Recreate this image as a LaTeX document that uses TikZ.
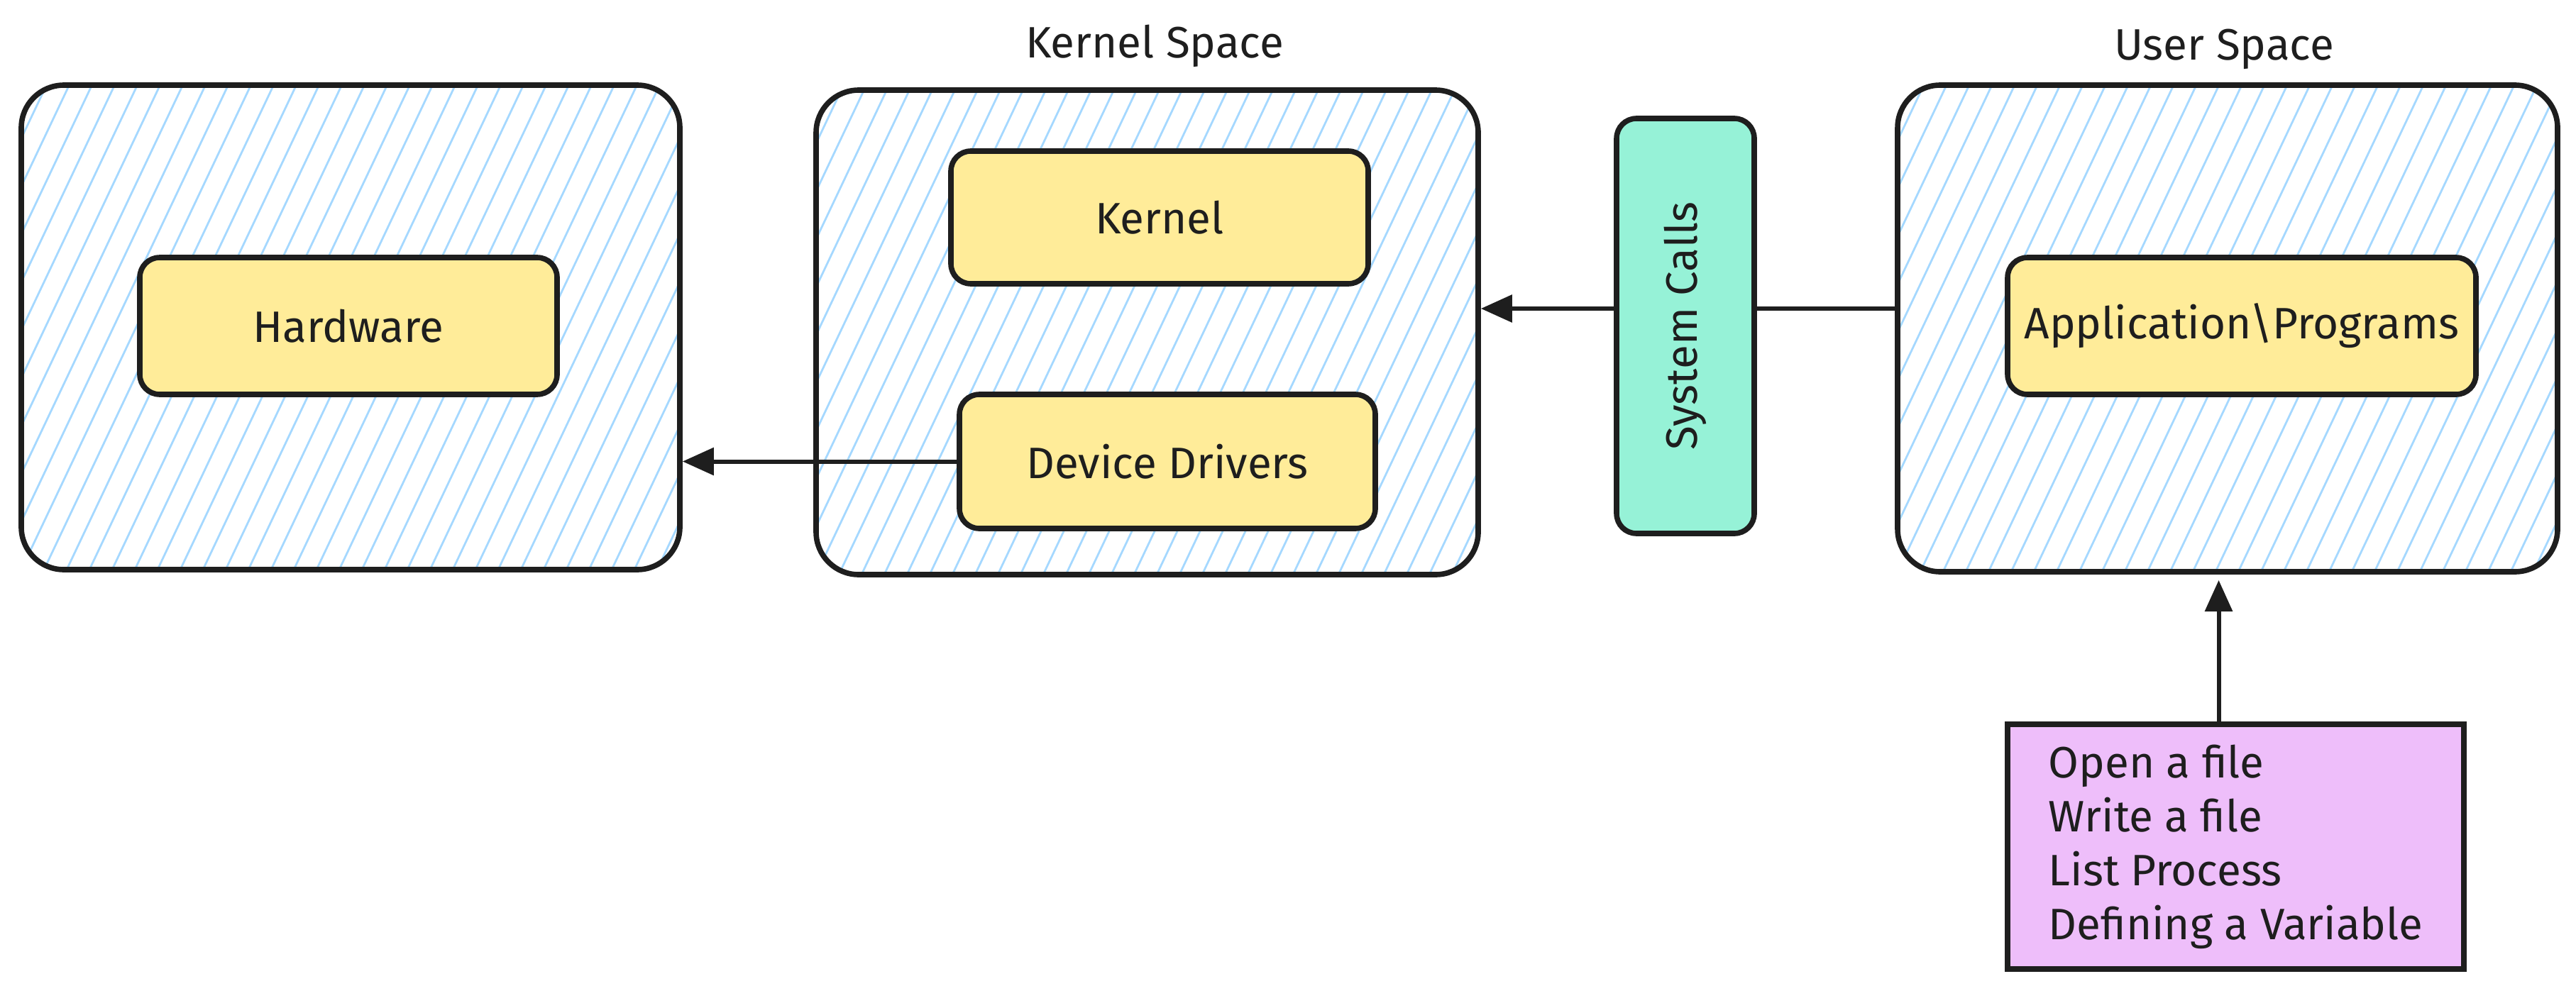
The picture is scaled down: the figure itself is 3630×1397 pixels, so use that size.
\documentclass[tikz,border=0pt]{standalone}
\usepackage{fontspec}
\setmainfont{Fira Sans}
\usetikzlibrary{arrows.meta,calc}
\definecolor{strokec}{HTML}{1E1E1E}
\definecolor{hatchc}{HTML}{A5D8FF}
\definecolor{yellowc}{HTML}{FFEC99}
\definecolor{greenc}{HTML}{96F2D7}
\definecolor{purplec}{HTML}{EEBEFA}
\tikzset{
  hatch/.style={path picture={
    \foreach \i in {-14,...,34}{
      \draw[draw=hatchc, line width=1.4pt] ([xshift=\i*16pt]path picture bounding box.south west) -- ++(180pt,380pt);
    }}},
  outerbox/.style={draw=strokec, line width=3.8pt, rounded corners=30pt, hatch, inner sep=0pt},
  innerbox/.style={draw=strokec, fill=yellowc, line width=3.8pt, rounded corners=14pt, inner sep=0pt},
  arr/.style={draw=strokec, line width=3pt, line cap=round, -{Triangle[length=22pt,width=19pt]}},
  txt/.style={font=\fontsize{31}{38}\selectfont, text=strokec}
}
\begin{document}
\begin{tikzpicture}[x=0.5pt,y=-0.5pt]
\useasboundingbox (0,0) rectangle (3630,1397);
% outer containers
\node[outerbox, minimum width=464pt, minimum height=341.5pt] (hw) at (494,461.5) {};
\node[outerbox, minimum width=466.5pt, minimum height=341.5pt] (ks) at (1616.5,468.5) {};
\node[outerbox, minimum width=465pt, minimum height=343pt] (us) at (3139,463) {};
% titles
\node[txt] (kstitle) at (1627,65) {Kernel Space};
\node[txt] (ustitle) at (3134,69) {User Space};
% inner boxes
\node[innerbox, txt, minimum width=294pt, minimum height=96.5pt] (hwin) at (491,459.5) {Hardware};
\node[innerbox, txt, minimum width=294pt, minimum height=93.5pt] (kern) at (1634,306.5) {Kernel};
\node[innerbox, txt, minimum width=293pt, minimum height=94.5pt] (dd) at (1645,650.5) {Device Drivers};
\node[innerbox, txt, minimum width=330pt, minimum height=96.5pt] (app) at (3159,459.5) {Application\textbackslash Programs};
% purple list
\node[draw=strokec, fill=purplec, line width=3.8pt, txt, align=left, minimum width=321.5pt, minimum height=172.5pt, inner sep=0pt] (pp) at (3150.5,1193.5)
  {Open a file\\Write a file\\List Process\\Defining a Variable};
% connectors
\draw[arr] ([yshift=14pt]us.west) -- ([yshift=14pt]us.west -| ks.east);
\draw[arr] (dd.west) -- (dd.west -| hw.east);
\draw[arr] ([xshift=-12pt]pp.north) -- ([xshift=-12pt,yshift=-4pt]pp.north |- us.south);
% system calls (drawn over the connector)
\node[draw=strokec, fill=greenc, line width=3.8pt, rounded corners=14pt, txt, rotate=90, minimum width=292.5pt, minimum height=97pt, inner sep=0pt] (sc) at (2375,459.5) {System Calls};
\end{tikzpicture}
\end{document}
